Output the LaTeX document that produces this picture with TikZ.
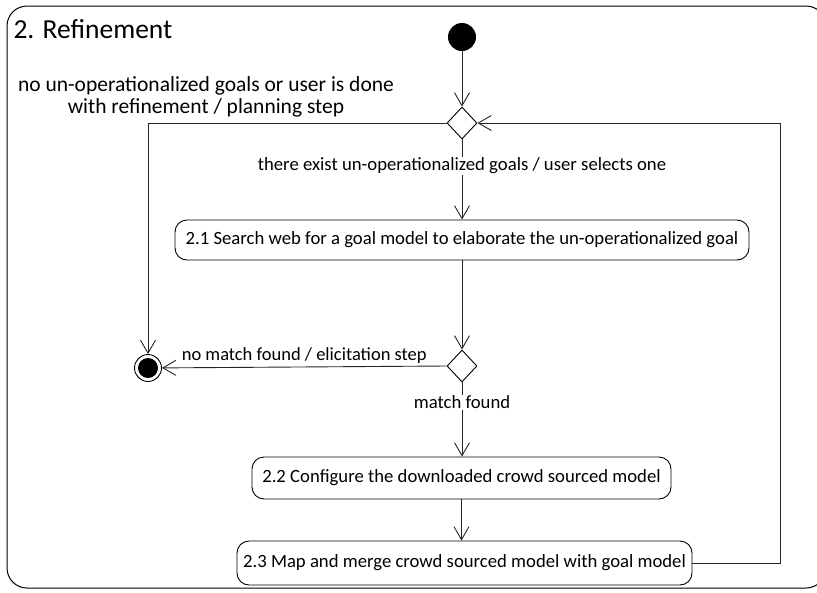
\documentclass[tikz,border=0pt]{standalone}
\usepackage{fontspec}
\setmainfont{Carlito}
\usetikzlibrary{shapes.geometric,arrows.meta}
\begin{document}
\begin{tikzpicture}[x=1pt,y=-1pt,
  flow/.style={draw=black!85,line width=0.9pt,-{Straight Barb[length=13pt,width=15pt,line width=0.9pt]}},
  action/.style={draw,line width=0.9pt,rounded corners=12pt,inner sep=0pt,font=\fontsize{18.7}{21}\selectfont},
  choice/.style={diamond,draw,line width=0.9pt,minimum width=30pt,minimum height=32pt,inner sep=0pt,fill=white},
  guard/.style={font=\fontsize{18.7}{22}\selectfont,fill=white,inner sep=1pt,align=center},
]
\useasboundingbox (0,0) rectangle (817,592);
% activity frame, running past the right edge
\begin{scope}
  \clip (0,0) rectangle (817,592);
  \draw[line width=1pt,rounded corners=20pt] (7,6) rectangle (826,588);
\end{scope}
\node[anchor=west,font=\fontsize{27.5}{32}\selectfont] (title) at (10,29) {2. Refinement};

% nodes
\node[circle,fill=black,minimum size=28pt,inner sep=0pt] (start) at (462,37) {};
\node[choice] (d1) at (462,123) {};
\node[action,minimum width=574pt,minimum height=40pt] (b21) at (462,240)
  {2.1 Search web for a goal model to elaborate the un-operationalized goal};
\node[choice] (d2) at (462,366) {};
\node[circle,draw,line width=0.9pt,minimum size=27pt,inner sep=0pt] (fin) at (148,368) {};
\node[circle,fill=black,minimum size=20pt,inner sep=0pt] (finDot) at (fin) {};
\node[action,minimum width=419pt,minimum height=42pt] (b22) at (461.5,478)
  {2.2 Configure the downloaded crowd sourced model};
\node[action,minimum width=455pt,minimum height=44pt] (b23) at (464.5,563)
  {2.3 Map and merge crowd sourced model with goal model};
\coordinate (loopx) at (780,0);

\node[font=\fontsize{21.5}{22}\selectfont,align=center] (doneLbl) at (206,97)
  {no un-operationalized goals or user is done\\with refinement / planning step};

% transitions
\draw[flow] (start) -- (d1);
\draw[flow] (d1) -- node[guard,pos=0.33] {there exist un-operationalized goals / user selects one} (b21);
\draw[flow] (b21) -- (d2);
\draw[flow] (d2) -- node[guard,pos=0.27] {match found} (b22.north -| d2);
\draw[flow] (b22.south) -- (b22.south |- b23.north);
\draw[flow] (b23.east) -- (b23.east -| loopx) |- (d1.east);
\draw[flow] (d1.west) -| (fin.north);
\draw[flow] (d2.west) -- node[midway,above,font=\fontsize{18.5}{20}\selectfont,inner sep=3pt] {no match found / elicitation step} (fin);
\end{tikzpicture}
\end{document}
